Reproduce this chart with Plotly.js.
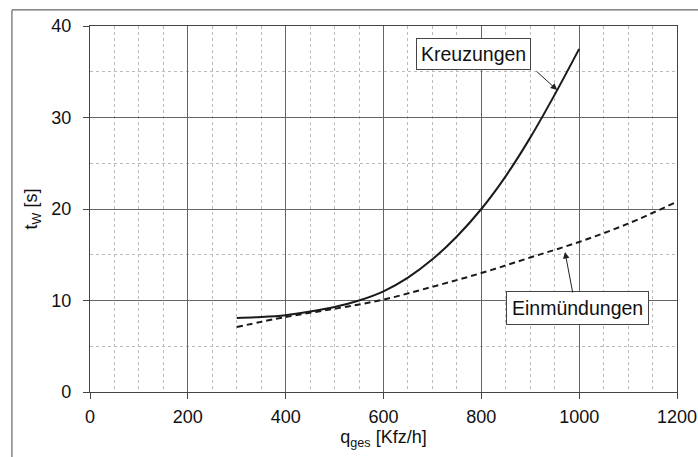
<!DOCTYPE html>
<html><head><meta charset="utf-8">
<script src="https://cdn.plot.ly/plotly-3.0.1.min.js"></script>
<style>html,body{margin:0;padding:0;background:#fff;overflow:hidden}#chart{width:698px;height:457px}</style>
</head><body><div id="chart"></div>
<script>
const kreuzX = [300, 350, 400, 450, 500, 550, 600, 650, 700, 750, 800, 850, 900, 950, 1000];
const kreuzY = [8.1, 8.2, 8.4, 8.8, 9.3, 10.0, 11.0, 12.5, 14.5, 17.0, 20.0, 23.6, 27.8, 32.5, 37.5];
const einX = [300, 400, 500, 600, 700, 800, 900, 1000, 1100, 1200];
const einY = [7.1, 8.2, 9.1, 10.1, 11.5, 13.0, 14.7, 16.4, 18.4, 20.8];
const labels = ['Kreuzungen', 'Einmündungen'];
const xTicks = [0, 200, 400, 600, 800, 1000, 1200];
const yTicks = [0, 10, 20, 30, 40];

const fam = 'Liberation Sans, Arial, sans-serif';
const font = {family: fam, size: 18, color: '#111'};
const traces = [
  {x: kreuzX, y: kreuzY, mode: 'lines', line: {color: '#1a1a1a', width: 2, shape: 'spline'}, name: labels[0], hoverinfo: 'skip'},
  {x: einX, y: einY, mode: 'lines', line: {color: '#1a1a1a', width: 2, dash: '6px,4px', shape: 'spline'}, name: labels[1], hoverinfo: 'skip'}
];
const axisCommon = {
  showline: true, mirror: true, linecolor: '#444', linewidth: 1.2,
  showgrid: true, gridcolor: '#666', gridwidth: 1,
  zeroline: false, ticks: 'outside', ticklen: 6, tickcolor: '#444',
  tickfont: font
};
const layout = {
  width: 698, height: 457,
  margin: {l: 90, r: 21, t: 26, b: 65},
  paper_bgcolor: '#fff', plot_bgcolor: '#fff',
  showlegend: false,
  font: font,
  xaxis: Object.assign({}, axisCommon, {
    range: [0, 1200], tickvals: xTicks, ticktext: xTicks.map(String),
    ticklabelstandoff: 2,
    minor: {dtick: 50, tick0: 0, showgrid: true, gridcolor: '#bbb', griddash: 'dot', gridwidth: 1},
    title: {text: 'q<sub>ges</sub> [Kfz/h]', font: {family: fam, size: 18, color: '#111'}, standoff: 2}
  }),
  yaxis: Object.assign({}, axisCommon, {
    range: [0, 40], tickvals: yTicks, ticktext: yTicks.map(String),
    ticklabelstandoff: 8,
    minor: {dtick: 5, tick0: 0, showgrid: true, gridcolor: '#bbb', griddash: 'dot', gridwidth: 1},
    title: {text: 't<sub>W</sub> [s]', font: {family: fam, size: 18, color: '#111'}, standoff: 8}
  }),
  shapes: [
    {type: 'line', xref: 'paper', yref: 'paper', x0: -0.133, x1: 1.2, y0: 1.044, y1: 1.044,
     line: {color: '#666', width: 1.2}, layer: 'below'},
    {type: 'line', xref: 'paper', yref: 'paper', x0: -0.133, x1: -0.133, y0: -0.3, y1: 1.044,
     line: {color: '#666', width: 1.2}, layer: 'below'}
  ],
  annotations: [
    {x: 783, y: 36.9, xref: 'x', yref: 'y', text: labels[0], showarrow: false,
     font: {family: fam, size: 19.5, color: '#111'}, bgcolor: '#fff', bordercolor: '#444', borderwidth: 1, borderpad: 4},
    {x: 955, y: 33.0, xref: 'x', yref: 'y', text: '', showarrow: true, ax: -22, ay: -20,
     arrowhead: 2, arrowsize: 1.3, arrowwidth: 1, arrowcolor: '#222', standoff: 0, startstandoff: 0},
    {x: 996, y: 9.2, xref: 'x', yref: 'y', text: labels[1], showarrow: false,
     font: {family: fam, size: 19.5, color: '#111'}, bgcolor: '#fff', bordercolor: '#444', borderwidth: 1, borderpad: 5},
    {x: 971, y: 15.3, xref: 'x', yref: 'y', text: '', showarrow: true, ax: 8, ay: 42,
     arrowhead: 2, arrowsize: 1.3, arrowwidth: 1, arrowcolor: '#222', standoff: 0, startstandoff: 0}
  ]
};
Plotly.newPlot('chart', traces, layout, {staticPlot: true, displayModeBar: false});
</script></body></html>
